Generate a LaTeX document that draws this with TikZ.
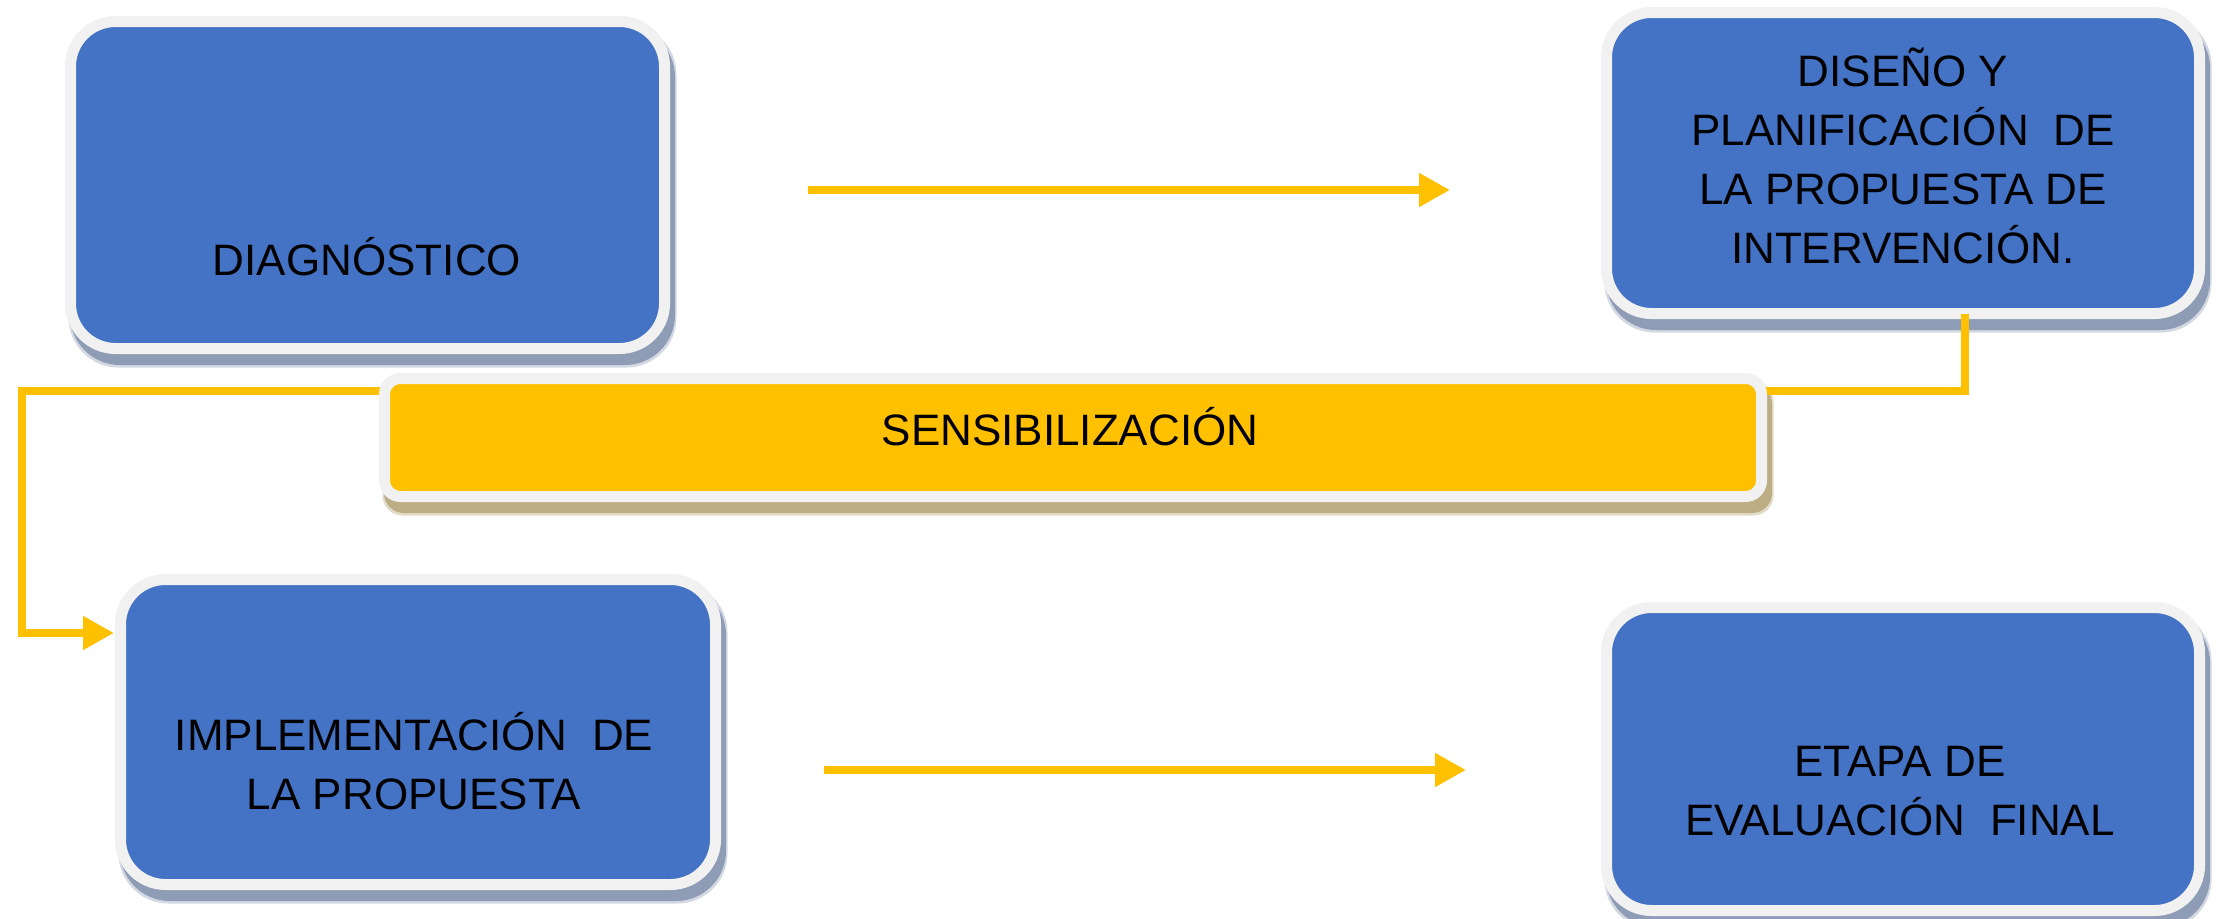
\documentclass[tikz,border=0pt]{standalone}
\usepackage{fontspec}
\setmainfont{Liberation Sans}
\usetikzlibrary{arrows.meta,calc}
\pgfdeclarelayer{bg}
\pgfsetlayers{bg,main}
\definecolor{boxblue}{HTML}{4472C4}
\definecolor{rim}{HTML}{F1F1F1}
\definecolor{bshadow}{HTML}{8E9CB6}
\definecolor{bhalo}{HTML}{D3D8E2}
\definecolor{gold}{HTML}{FFC000}
\definecolor{yshadow}{HTML}{BCAD85}
\definecolor{yhalo}{HTML}{E2DBC8}
\tikzset{
  framebox/.style={draw=rim, line width=11pt, outer sep=0pt, inner sep=0pt},
  bluebox/.style={framebox, fill=boxblue, rounded corners=45pt},
  goldbox/.style={framebox, fill=gold, rounded corners=16pt},
  boxlabel/.style={font=\fontsize{44pt}{59pt}\selectfont, align=center, inner sep=0pt, anchor=base, text=black},
  flow/.style={draw=gold, line width=8pt, -{Triangle[length=31pt,width=32pt]}},
}
\newcommand\dropshade[4]{%
  \fill[#2, rounded corners=#4] ($(#1.north west)+(-2,3)$) rectangle ($(#1.south east)+(12,19)$);
  \fill[#3, rounded corners=#4] ($(#1.north west)+(-0.5,5.5)$) rectangle ($(#1.south east)+(10.5,16.5)$);
}
\begin{document}
\begin{tikzpicture}[x=1pt,y=-1pt]
\useasboundingbox (0,0) rectangle (2216,918);
% blue boxes
\node[bluebox, minimum width=594pt, minimum height=327pt] (diag) at (367.5,185) {};
\node[bluebox, minimum width=593pt, minimum height=301pt] (diseno) at (1903,163) {};
\node[bluebox, minimum width=595pt, minimum height=305pt] (impl) at (418,732) {};
\node[bluebox, minimum width=593pt, minimum height=303pt] (etapa) at (1903,759) {};
% texts (anchor=base is the baseline of the last line)
\node[boxlabel] (diagT) at (367,275) {DIAGNÓSTICO};
\node[boxlabel] (disenoT) at (1903,263) {DISEÑO Y\\PLANIFICACIÓN\ \ DE\\LA PROPUESTA DE\\INTERVENCIÓN.};
\node[boxlabel] (implT) at (414,809) {IMPLEMENTACIÓN\ \ DE\\LA PROPUESTA};
\node[boxlabel] (etapaT) at (1900,835) {ETAPA DE\\EVALUACIÓN\ \ FINAL};
% arrows
\draw[flow, shorten <=143.5pt, shorten >=156.5pt] (diag.east |- 0,190) -- (diseno.west |- 0,190);
\draw[flow, shorten <=108.5pt, shorten >=140.5pt] (impl.east |- 0,770) -- (etapa.west |- 0,770);
\coordinate (elbow) at (22,391);
\draw[flow, shorten >=6.5pt] (diseno.south -| 1965,0) |- (elbow) |- ([yshift=99pt]impl.west);
% sensibilizacion
\node[goldbox, minimum width=1377pt, minimum height=118pt] (sens) at (1073,437.5) {};
\node[boxlabel] (sensT) at (1070,445) {SENSIBILIZACIÓN};
\begin{pgfonlayer}{bg}
\fill[white] (0,0) rectangle (2216,918);
\dropshade{diag}{bhalo}{bshadow}{50pt}
\dropshade{diseno}{bhalo}{bshadow}{50pt}
\dropshade{impl}{bhalo}{bshadow}{50pt}
\dropshade{etapa}{bhalo}{bshadow}{50pt}
\dropshade{sens}{yhalo}{yshadow}{20pt}
\end{pgfonlayer}
\end{tikzpicture}
\end{document}
